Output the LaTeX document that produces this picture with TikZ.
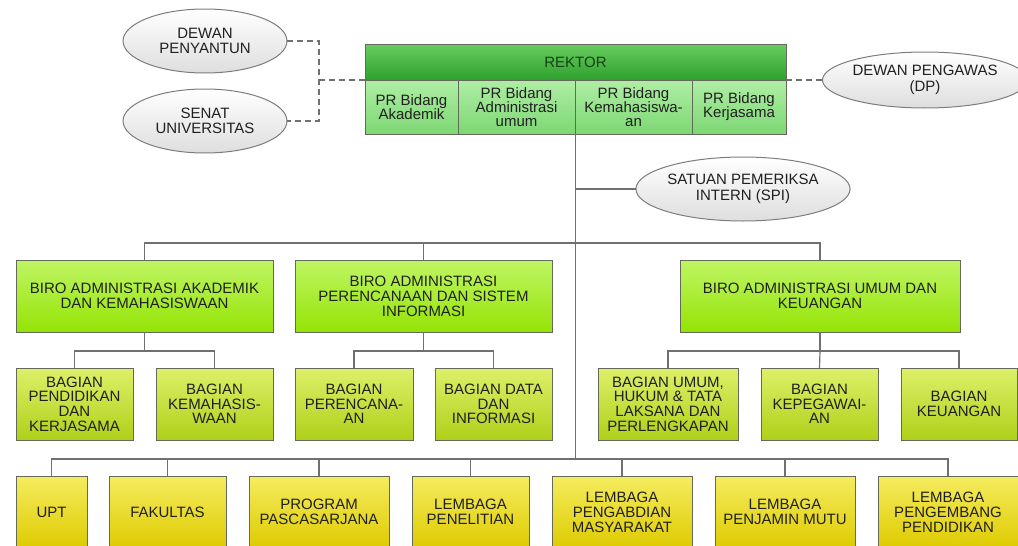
\documentclass[tikz,border=0pt]{standalone}
\usepackage{fontspec}
\setmainfont{Liberation Sans}
\usetikzlibrary{positioning}
\usetikzlibrary{fit}
\usetikzlibrary{shapes.geometric}

\definecolor{boxline}{RGB}{100,105,90}
\definecolor{linkgray}{RGB}{112,112,112}
\definecolor{txt}{RGB}{32,32,32}
\definecolor{rekTop}{RGB}{105,205,95}
\definecolor{rekBot}{RGB}{45,160,45}
\definecolor{rekTxt}{RGB}{25,65,25}
\definecolor{prTop}{RGB}{175,238,165}
\definecolor{prBot}{RGB}{125,215,115}
\definecolor{biroTop}{RGB}{192,245,100}
\definecolor{biroBot}{RGB}{148,228,5}
\definecolor{bagTop}{RGB}{222,240,105}
\definecolor{bagBot}{RGB}{175,208,25}
\definecolor{lemTop}{RGB}{245,236,95}
\definecolor{lemBot}{RGB}{222,203,0}
\definecolor{ovalBot}{RGB}{222,222,222}
\definecolor{ovalLine}{RGB}{125,125,125}

\tikzset{unit/.style={draw=boxline, line width=1pt, inner sep=0pt, outer sep=0pt, align=center, text=txt, font=\fontsize{15}{15}\selectfont}}
\tikzset{rek/.style={unit, top color=rekTop, bottom color=rekBot, text=rekTxt, minimum width=421pt, minimum height=36pt}}
\tikzset{prb/.style={unit, top color=prTop, bottom color=prBot, minimum height=54pt, font=\fontsize{15}{14}\selectfont}}
\tikzset{biro/.style={unit, top color=biroTop, bottom color=biroBot, minimum height=72pt}}
\tikzset{bag/.style={unit, top color=bagTop, bottom color=bagBot, minimum height=72pt, font=\fontsize{15}{14.7}\selectfont}}
\tikzset{lem/.style={unit, top color=lemTop, bottom color=lemBot, minimum height=72pt}}
\tikzset{oval/.style={ellipse, draw=ovalLine, line width=1pt, top color=white, bottom color=ovalBot, inner sep=0pt, outer sep=0pt, align=center, text=txt, font=\fontsize{15}{15.5}\selectfont}}
\tikzset{link/.style={draw=linkgray, line width=1.2pt}}
\tikzset{dashlink/.style={link, dashed, dash pattern=on 6pt off 4pt}}

\begin{document}
\begin{tikzpicture}[x=1pt,y=-1pt]
        \useasboundingbox (0,0) rectangle (1018,546);
        \clip (0,0) rectangle (1018,546);

        % rektor block
        \node[rek] (rektor) at (575.5,62) {REKTOR};
        \node[prb, minimum width=93pt] (akad) at (411.5,107) {PR Bidang\\Akademik};
        \node[prb, minimum width=117pt, right=0pt of akad] (adum) {PR Bidang\\Administrasi\\umum};
        \node[prb, minimum width=117pt, right=0pt of adum] (kema) {PR Bidang\\Kemahasiswa-\\an};
        \node[prb, minimum width=94pt, right=0pt of kema] (kerja) {PR Bidang\\Kerjasama};
        \node[fit=(rektor) (akad) (kerja), inner sep=0pt] (rektorgrp) {};

        % ovals
        \node[oval, minimum width=164pt, minimum height=64pt] (penyantun) at (205,41) {DEWAN\\PENYANTUN};
        \node[oval, minimum width=164pt, minimum height=64pt] (senat) at (205,121) {SENAT\\UNIVERSITAS};
        \node[oval, minimum width=186pt, minimum height=56pt] (pengawas) at (925,80) {DEWAN PENGAWAS\\(DP)};
        \node[oval, minimum width=198pt, minimum height=64pt] (spi) at (743,189) {SATUAN PEMERIKSA\\INTERN (SPI)};

        % biro
        \node[biro, minimum width=257pt] (biroA) at (144.5,296) {BIRO ADMINISTRASI AKADEMIK\\DAN KEMAHASISWAAN};
        \node[biro, minimum width=257pt] (biroP) at (423.5,296) {BIRO ADMINISTRASI\\PERENCANAAN DAN SISTEM\\INFORMASI};
        \node[biro, minimum width=280pt] (biroU) at (820,296) {BIRO ADMINISTRASI UMUM DAN\\KEUANGAN};

        % bagian
        \node[bag, minimum width=117pt] (bPend) at (74.5,404) {BAGIAN\\PENDIDIKAN\\DAN\\KERJASAMA};
        \node[bag, minimum width=117pt] (bKema) at (214.5,404) {BAGIAN\\KEMAHASIS-\\WAAN};
        \node[bag, minimum width=118pt] (bRenc) at (354,404) {BAGIAN\\PERENCANA-\\AN};
        \node[bag, minimum width=117pt] (bData) at (493.5,404) {BAGIAN DATA\\DAN\\INFORMASI};
        \node[bag, minimum width=140pt] (bUmum) at (668,404) {BAGIAN UMUM,\\HUKUM \& TATA\\LAKSANA DAN\\PERLENGKAPAN};
        \node[bag, minimum width=117pt] (bPeg) at (819.5,404) {BAGIAN\\KEPEGAWAI-\\AN};
        \node[bag, minimum width=116pt] (bKeu) at (959,404) {BAGIAN\\KEUANGAN};

        % lembaga row
        \node[lem, minimum width=71pt] (upt) at (51.5,512) {UPT};
        \node[lem, minimum width=117pt] (fak) at (167.5,512) {FAKULTAS};
        \node[lem, minimum width=140pt] (pasca) at (319,512) {PROGRAM\\PASCASARJANA};
        \node[lem, minimum width=117pt] (penel) at (470.5,512) {LEMBAGA\\PENELITIAN};
        \node[lem, minimum width=140pt] (pengab) at (622,512) {LEMBAGA\\PENGABDIAN\\MASYARAKAT};
        \node[lem, minimum width=140pt] (mutu) at (785,512) {LEMBAGA\\PENJAMIN MUTU};
        \node[lem, minimum width=140pt] (pengemb) at (948,512) {LEMBAGA\\PENGEMBANG\\PENDIDIKAN};

        % junctions
        \coordinate (dashJ) at (319,80);
        \coordinate (spiJ) at (575.5,189);
        \coordinate (biroJ) at (575.5,243);
        \coordinate (lemJ) at (575.5,459);
        \coordinate (busA) at (144.5,351);
        \coordinate (busP) at (423.5,351);
        \coordinate (busU) at (820,351);

        % dashed links
        \draw[dashlink] (penyantun.east) -| (dashJ) |- (senat.east);
        \draw[dashlink] (dashJ) -- (rektorgrp.west |- rektor.south);
        \draw[dashlink] (rektor.south east) -- (pengawas.west);

        % trunk
        \draw[link] (rektorgrp.south) -- (lemJ);
        \draw[link] (spiJ) -- (spi.west);

        \draw[link] (biroA.north) |- (biroJ) -| (biroU.north);
        \draw[link] (biroP.north) -- (biroP.north |- biroJ);

        \draw[link] (biroA.south) -- (busA);
        \draw[link] (bPend.north) |- (busA) -| (bKema.north);
        \draw[link] (biroP.south) -- (busP);
        \draw[link] (bRenc.north) |- (busP) -| (bData.north);
        \draw[link] (biroU.south) -- (busU);
        \draw[link] (bUmum.north) |- (busU) -| (bKeu.north);
        \draw[link] (bPeg.north) -- (busU);

        \draw[link] (upt.north) |- (lemJ) -| (pengemb.north);
        \draw[link] (fak.north) -- (fak.north |- lemJ);
        \draw[link] (pasca.north) -- (pasca.north |- lemJ);
        \draw[link] (penel.north) -- (penel.north |- lemJ);
        \draw[link] (pengab.north) -- (pengab.north |- lemJ);
        \draw[link] (mutu.north) -- (mutu.north |- lemJ);
\end{tikzpicture}
\end{document}
